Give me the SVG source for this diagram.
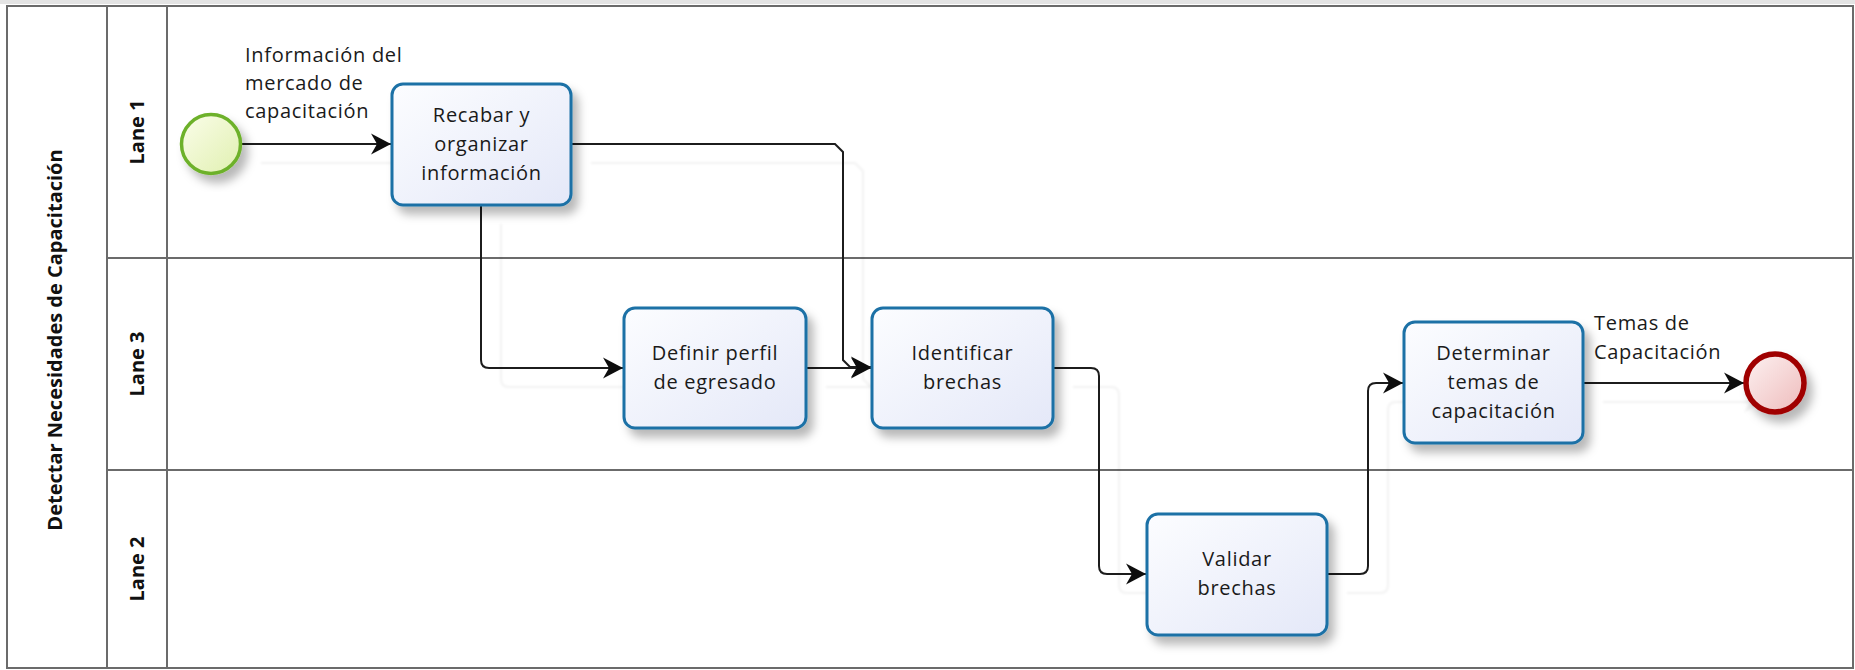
<svg xmlns="http://www.w3.org/2000/svg" width="1855" height="670" viewBox="0 0 1855 670">
  <defs>
    <style>
      .pool { fill: #ffffff; stroke: #6b6b6b; stroke-width: 2; }
      .div { stroke: #6b6b6b; stroke-width: 2; fill: none; }
      .task { fill: url(#taskFill); stroke: #1d71a6; stroke-width: 3; filter: url(#shadow); }
      .lbl { font-family: "Open Sans", "Noto Sans", "DejaVu Sans", sans-serif; font-size: 20px; fill: #1a1a1a; letter-spacing: 0.7px; }
      .lane { font-family: "Open Sans", "Noto Sans", "DejaVu Sans", sans-serif; font-size: 20px; font-weight: bold; fill: #111; }
      .flow { fill: none; stroke: #1e1e1e; stroke-width: 2; marker-end: url(#arrow); }
    </style>
    <linearGradient id="taskFill" x1="0" y1="0" x2="1" y2="1">
      <stop offset="0" stop-color="#fcfdff"/>
      <stop offset="1" stop-color="#e4e8f8"/>
    </linearGradient>
    <linearGradient id="startFill" x1="0" y1="0" x2="1" y2="1">
      <stop offset="0" stop-color="#fbfdea"/>
      <stop offset="1" stop-color="#e0f0b0"/>
    </linearGradient>
    <linearGradient id="endFill" x1="0" y1="0" x2="1" y2="1">
      <stop offset="0" stop-color="#fdf2f2"/>
      <stop offset="1" stop-color="#eebbbb"/>
    </linearGradient>
    <filter id="shadow" x="-20%" y="-20%" width="150%" height="150%">
      <feDropShadow dx="6" dy="8" stdDeviation="5" flood-color="#000" flood-opacity="0.28"/>
    </filter>
    <filter id="flowShadow" x="-10%" y="-10%" width="130%" height="130%">
      <feDropShadow dx="20" dy="19" stdDeviation="1" flood-color="#000" flood-opacity="0.05"/>
    </filter>
    <marker id="arrow" viewBox="-21 -12 23 24" refX="0" refY="0" markerWidth="23" markerHeight="24" markerUnits="userSpaceOnUse" orient="auto">
      <path d="M0,0 L-20,-10.5 L-14,0 L-20,10.5 Z" fill="#111"/>
    </marker>
  </defs>

  <!-- top strip -->
  <rect x="0" y="0" width="1855" height="4" fill="#e4e4e4"/>

  <!-- pool and lanes -->
  <g id="pool">
    <rect class="pool" x="7" y="6" width="1846" height="662"/>
    <line class="div" x1="107" y1="6" x2="107" y2="668"/>
    <line class="div" x1="167" y1="6" x2="167" y2="668"/>
    <line class="div" x1="107" y1="258" x2="1853" y2="258"/>
    <line class="div" x1="107" y1="470" x2="1853" y2="470"/>
    <text class="lane" transform="translate(55,340) rotate(-90)" x="0" y="7" text-anchor="middle">Detectar Necesidades de Capacitación</text>
    <text class="lane" transform="translate(137,132) rotate(-90)" x="0" y="7" text-anchor="middle">Lane 1</text>
    <text class="lane" transform="translate(137,364) rotate(-90)" x="0" y="7" text-anchor="middle">Lane 3</text>
    <text class="lane" transform="translate(137,569) rotate(-90)" x="0" y="7" text-anchor="middle">Lane 2</text>
  </g>

  <!-- sequence flows -->
  <g id="connectors" filter="url(#flowShadow)">
    <path class="flow" d="M241,144 H391"/>
    <path class="flow" d="M571,144 H835 L843,152 V360 L850,367 H871"/>
    <path class="flow" d="M481,205 V360 Q481,368 489,368 H623"/>
    <path class="flow" d="M806,368 H871"/>
    <path class="flow" d="M1053,368 H1091 Q1099,368 1099,376 V566 Q1099,574 1107,574 H1146"/>
    <path class="flow" d="M1327,574 H1360 Q1368,574 1368,566 V391 Q1368,383 1376,383 H1403"/>
    <path class="flow" d="M1583,383 H1744"/>
  </g>

  <!-- flow labels -->
  <g id="flow-labels">
    <text class="lbl" x="245" y="62">Información del</text>
    <text class="lbl" x="245" y="90">mercado de</text>
    <text class="lbl" x="245" y="118">capacitación</text>
    <text class="lbl" x="1594" y="330">Temas de</text>
    <text class="lbl" x="1594" y="359">Capacitación</text>
  </g>

  <!-- events -->
  <g id="start">
    <circle cx="211" cy="144" r="29.5" fill="url(#startFill)" stroke="#6db12a" stroke-width="3.5" filter="url(#shadow)"/>
  </g>
  <g id="end">
    <circle cx="1775" cy="383" r="29" fill="url(#endFill)" stroke="#a00000" stroke-width="5.5" filter="url(#shadow)"/>
  </g>

  <!-- tasks -->
  <g id="recabar">
    <rect class="task" x="392" y="84" width="179" height="121" rx="11"/>
    <text class="lbl" text-anchor="middle" x="481.5" y="122">Recabar y</text>
    <text class="lbl" text-anchor="middle" x="481.5" y="151">organizar</text>
    <text class="lbl" text-anchor="middle" x="481.5" y="180">información</text>
  </g>
  <g id="definir">
    <rect class="task" x="624" y="308" width="182" height="120" rx="11"/>
    <text class="lbl" text-anchor="middle" x="715" y="360">Definir perfil</text>
    <text class="lbl" text-anchor="middle" x="715" y="389">de egresado</text>
  </g>
  <g id="identificar">
    <rect class="task" x="872" y="308" width="181" height="120" rx="11"/>
    <text class="lbl" text-anchor="middle" x="962.5" y="360">Identificar</text>
    <text class="lbl" text-anchor="middle" x="962.5" y="389">brechas</text>
  </g>
  <g id="validar">
    <rect class="task" x="1147" y="514" width="180" height="121" rx="11"/>
    <text class="lbl" text-anchor="middle" x="1237" y="566">Validar</text>
    <text class="lbl" text-anchor="middle" x="1237" y="595">brechas</text>
  </g>
  <g id="determinar">
    <rect class="task" x="1404" y="322" width="179" height="121" rx="11"/>
    <text class="lbl" text-anchor="middle" x="1493.5" y="360">Determinar</text>
    <text class="lbl" text-anchor="middle" x="1493.5" y="389">temas de</text>
    <text class="lbl" text-anchor="middle" x="1493.5" y="418">capacitación</text>
  </g>
</svg>
